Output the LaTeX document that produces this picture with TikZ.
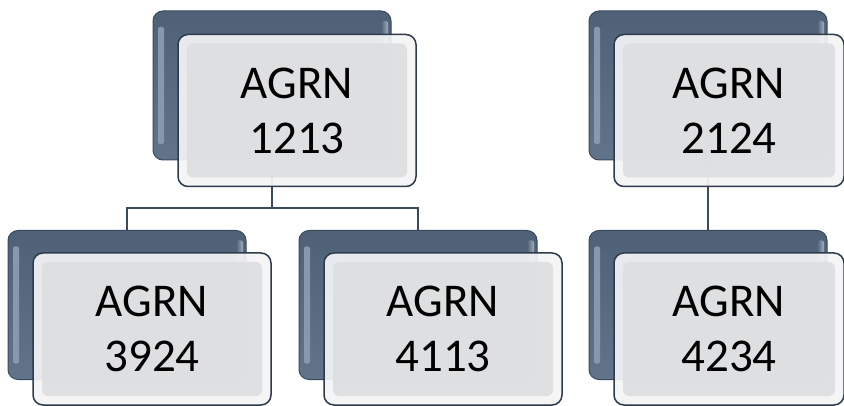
\documentclass[tikz,border=0pt]{standalone}
\usepackage{fontspec}
\setmainfont{Carlito}
\usetikzlibrary{calc}
\definecolor{backtop}{HTML}{4F6177}
\definecolor{backbot}{HTML}{627489}
\definecolor{backline}{HTML}{3A4A5E}
\definecolor{backhl}{HTML}{8A9AAE}
\definecolor{frontouter}{HTML}{F5F5F6}
\definecolor{frontinner}{HTML}{DEDFE1}
\definecolor{frontline}{HTML}{2E3B4B}
\definecolor{linkcol}{HTML}{3B4A5C}
\begin{document}
\begin{tikzpicture}[x=1pt,y=-1pt,
  backbox/.style={rectangle, rounded corners=10pt, minimum width=238pt, minimum height=149pt,
    draw=backline, line width=1pt, top color=backtop, bottom color=backbot, inner sep=0pt,
    path picture={
      \shade[left color=backhl, right color=backtop, rounded corners=2pt, draw=none]
        ($(path picture bounding box.north west)+(5pt,-16pt)$) rectangle ($(path picture bounding box.south west)+(11pt,16pt)$);
      \shade[left color=backtop, right color=backhl!80!white, rounded corners=2pt, draw=none]
        ($(path picture bounding box.north east)+(-10pt,-10pt)$) rectangle ($(path picture bounding box.south east)+(-3pt,16pt)$);
    }},
  frontbox/.style={rectangle, rounded corners=10pt, minimum width=238pt, minimum height=152pt,
    draw=frontline, line width=1.5pt, fill=frontouter, fill opacity=0.92, text opacity=1,
    align=center, inner sep=0pt, font=\fontsize{47}{55}\selectfont,
    path picture={
      \fill[frontinner, rounded corners=6pt, fill opacity=0.95] ($(path picture bounding box.south west)+(9pt,9pt)$) rectangle ($(path picture bounding box.north east)+(-9pt,-9pt)$);
    }},
  link/.style={draw=linkcol, line width=2pt}]
\fill[white] (0,0) rectangle (844,406);
\useasboundingbox (0,0) rectangle (844,406);
% back boxes
\node[backbox] (b1) at (272,85.5) {};
\node[backbox] (b2) at (127,305) {};
\node[backbox] (b3) at (418,305) {};
\node[backbox] (b4) at (708,85.5) {};
\node[backbox] (b5) at (708,305) {};
% connectors
\draw[link] (b1.south) -- ++(0,48) -| (b2.north);
\draw[link] (b1.south) -- ++(0,48) -| (b3.north);
\draw[link] (b4.south) -- (b5.north);
% front boxes
\node[frontbox] (f1) at (297,110.5) {AGRN\\1213};
\node[frontbox] (f2) at (152,329) {AGRN\\3924};
\node[frontbox] (f3) at (443,329) {AGRN\\4113};
\node[frontbox, minimum width=230pt] (f4) at (729,110.5) {AGRN\\2124};
\node[frontbox, minimum width=230pt] (f5) at (729,329) {AGRN\\4234};
\end{tikzpicture}
\end{document}
